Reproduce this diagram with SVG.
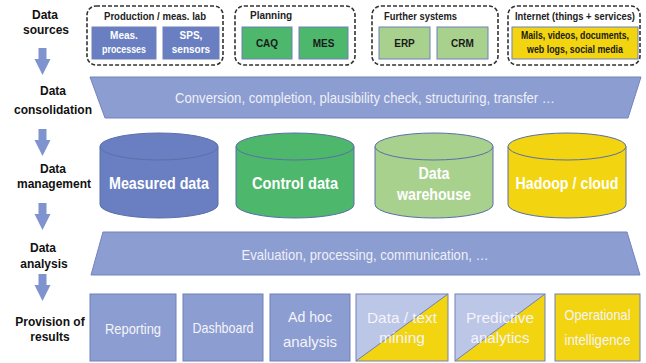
<svg xmlns="http://www.w3.org/2000/svg" width="646" height="363" viewBox="0 0 646 363">
  <style>
    .lbl { font-family: "Liberation Sans", Arial, sans-serif; font-weight: bold; font-size: 12px; fill: #111; text-anchor: middle; }
    .grp { fill: none; stroke: #333; stroke-width: 1.6; stroke-dasharray: 4 2; }
    .gtitle { font-family: "Liberation Sans", Arial, sans-serif; font-weight: bold; font-size: 10px; fill: #222; }
    .box { stroke: #6F80B8; stroke-width: 1; }
    .btxt { font-family: "Liberation Sans", Arial, sans-serif; font-weight: bold; font-size: 10px; text-anchor: middle; }
    .dark { fill: #6A7FC1; }
    .green { fill: #4DB76C; }
    .lgreen { fill: #A9D18E; }
    .yellow { fill: #F2D410; }
    .peri { fill: #8C9DD1; }
    .pale { fill: #BCC6E6; }
    .band { fill: #8C9DD1; stroke: #7383BE; stroke-width: 1; }
    .bandtxt { font-family: "Liberation Sans", Arial, sans-serif; font-size: 15px; fill: #EEF0F8; text-anchor: middle; }
    .cyl { stroke: #5B6FA8; stroke-width: 1; }
    .cyltxt { font-family: "Liberation Sans", Arial, sans-serif; font-weight: bold; font-size: 17px; fill: #FFFFFF; text-anchor: middle; }
    .restxt { font-family: "Liberation Sans", Arial, sans-serif; font-size: 15px; fill: #F4F4FA; text-anchor: middle; }
    .arrow { fill: #7F93CF; }
  </style>
  <defs>
    <!-- downward block arrow, top of the shaft at the origin -->
    <polygon id="down" points="-4,0 4,0 4,11 8,11 0,27 -8,11 -4,11"/>
  </defs>

  <rect width="646" height="363" fill="#FFFFFF"/>

  <!-- layer labels -->
  <g id="labels">
    <text class="lbl" x="45" y="19">Data</text>
    <text class="lbl" x="46" y="34">sources</text>
    <text class="lbl" x="53" y="95">Data</text>
    <text class="lbl" x="53" y="114">consolidation</text>
    <text class="lbl" x="53" y="173">Data</text>
    <text class="lbl" x="54" y="188">management</text>
    <text class="lbl" x="43" y="252">Data</text>
    <text class="lbl" x="44" y="268">analysis</text>
    <text class="lbl" x="50" y="326">Provision of</text>
    <text class="lbl" x="50" y="341">results</text>
  </g>

  <!-- flow arrows between layers -->
  <g id="connectors" class="arrow">
    <use href="#down" x="42.5" y="48"/>
    <use href="#down" x="42.5" y="129"/>
    <use href="#down" x="42.5" y="203"/>
    <use href="#down" x="42.5" y="274"/>
  </g>

  <!-- data sources -->
  <g id="src-production">
    <rect class="grp" x="87" y="6" width="136" height="59" rx="9"/>
    <text class="gtitle" x="155" y="20" text-anchor="middle" textLength="102" lengthAdjust="spacingAndGlyphs">Production / meas. lab</text>
    <rect class="box dark" x="92" y="27" width="64" height="32"/>
    <text class="btxt" x="124" y="39" fill="#FFFFFF">Meas.</text>
    <text class="btxt" x="124" y="53" fill="#FFFFFF" textLength="44" lengthAdjust="spacingAndGlyphs">processes</text>
    <rect class="box dark" x="163" y="27" width="56" height="32"/>
    <text class="btxt" x="191" y="39" fill="#FFFFFF">SPS,</text>
    <text class="btxt" x="191" y="53" fill="#FFFFFF">sensors</text>
  </g>

  <g id="src-planning">
    <rect class="grp" x="235" y="6" width="120" height="59" rx="9"/>
    <text class="gtitle" x="250" y="19">Planning</text>
    <rect class="box green" x="242" y="27" width="50" height="32"/>
    <text class="btxt" x="267" y="47" fill="#1A1A1A" font-size="11">CAQ</text>
    <rect class="box green" x="299" y="27" width="49" height="32"/>
    <text class="btxt" x="323.5" y="47" fill="#1A1A1A" font-size="11">MES</text>
  </g>

  <g id="src-further">
    <rect class="grp" x="372" y="6" width="126" height="59" rx="9"/>
    <text class="gtitle" x="384" y="20" textLength="73" lengthAdjust="spacingAndGlyphs">Further systems</text>
    <rect class="box lgreen" x="379" y="27" width="51" height="32"/>
    <text class="btxt" x="404.5" y="47" fill="#1A1A1A" font-size="11">ERP</text>
    <rect class="box lgreen" x="437" y="27" width="51" height="32"/>
    <text class="btxt" x="462.5" y="47" fill="#1A1A1A" font-size="11">CRM</text>
  </g>

  <g id="src-internet">
    <rect class="grp" x="508" y="6" width="132" height="59" rx="9"/>
    <text class="gtitle" x="575" y="20" text-anchor="middle" textLength="120" lengthAdjust="spacingAndGlyphs">Internet (things + services)</text>
    <rect class="box yellow" x="512" y="27" width="126" height="32"/>
    <text class="btxt" x="575" y="39" fill="#1A1A1A" textLength="108" lengthAdjust="spacingAndGlyphs">Mails, videos, documents,</text>
    <text class="btxt" x="575" y="53" fill="#1A1A1A" textLength="96" lengthAdjust="spacingAndGlyphs">web logs, social media</text>
  </g>

  <!-- data consolidation -->
  <g id="consolidation">
    <polygon class="band" points="90,77 641,77 628,118 105,118"/>
    <text class="bandtxt" x="365" y="103" textLength="380" lengthAdjust="spacingAndGlyphs">Conversion, completion, plausibility check, structuring, transfer …</text>
  </g>

  <!-- data management: storage cylinders -->
  <g id="db-measured">
    <path class="cyl dark" d="M100,146.5 L100,204.5 A59,13.5 0 0 0 218,204.5 L218,146.5 Z"/>
    <ellipse class="cyl dark" cx="159" cy="146.5" rx="59" ry="13.5"/>
    <text class="cyltxt" x="159" y="189" textLength="100" lengthAdjust="spacingAndGlyphs">Measured data</text>
  </g>
  <g id="db-control">
    <path class="cyl green" d="M236,146.5 L236,204.5 A59,13.5 0 0 0 354,204.5 L354,146.5 Z"/>
    <ellipse class="cyl green" cx="295" cy="146.5" rx="59" ry="13.5"/>
    <text class="cyltxt" x="295" y="189" textLength="86" lengthAdjust="spacingAndGlyphs">Control data</text>
  </g>
  <g id="db-warehouse">
    <path class="cyl lgreen" d="M375,146.5 L375,204.5 A59,13.5 0 0 0 493,204.5 L493,146.5 Z"/>
    <ellipse class="cyl lgreen" cx="434" cy="146.5" rx="59" ry="13.5"/>
    <text class="cyltxt" x="434" y="179" textLength="31" lengthAdjust="spacingAndGlyphs">Data</text>
    <text class="cyltxt" x="434" y="200" textLength="74" lengthAdjust="spacingAndGlyphs">warehouse</text>
  </g>
  <g id="db-hadoop">
    <path class="cyl yellow" d="M508,146.5 L508,204.5 A59,13.5 0 0 0 626,204.5 L626,146.5 Z"/>
    <ellipse class="cyl yellow" cx="567" cy="146.5" rx="59" ry="13.5"/>
    <text class="cyltxt" x="567" y="189" textLength="103" lengthAdjust="spacingAndGlyphs">Hadoop / cloud</text>
  </g>

  <!-- data analysis -->
  <g id="analysis">
    <polygon class="band" points="103,232 627,232 640,275 91,275"/>
    <text class="bandtxt" x="365" y="260" textLength="247" lengthAdjust="spacingAndGlyphs">Evaluation, processing, communication, …</text>
  </g>

  <!-- provision of results -->
  <g id="res-reporting">
    <rect class="box peri" x="90" y="294" width="86" height="67"/>
    <text class="restxt" x="133" y="334" textLength="56" lengthAdjust="spacingAndGlyphs">Reporting</text>
  </g>
  <g id="res-dashboard">
    <rect class="box peri" x="183" y="294" width="80" height="67"/>
    <text class="restxt" x="223" y="333" textLength="61" lengthAdjust="spacingAndGlyphs">Dashboard</text>
  </g>
  <g id="res-adhoc">
    <rect class="box peri" x="270" y="294" width="80" height="67"/>
    <text class="restxt" x="310" y="322" textLength="44" lengthAdjust="spacingAndGlyphs">Ad hoc</text>
    <text class="restxt" x="310" y="347" textLength="54" lengthAdjust="spacingAndGlyphs">analysis</text>
  </g>
  <g id="res-mining">
    <rect class="pale" x="356" y="294" width="92" height="67"/>
    <polygon class="yellow" points="356,361 448,294 448,361"/>
    <rect class="box" x="356" y="294" width="92" height="67" fill="none"/>
    <line x1="356" y1="361" x2="448" y2="294" stroke="#6F80B8" stroke-width="1"/>
    <text class="restxt" x="402" y="323" textLength="70" lengthAdjust="spacingAndGlyphs">Data / text</text>
    <text class="restxt" x="402" y="343" textLength="46" lengthAdjust="spacingAndGlyphs">mining</text>
  </g>
  <g id="res-predictive">
    <rect class="pale" x="455" y="294" width="90" height="67"/>
    <polygon class="yellow" points="455,361 545,294 545,361"/>
    <rect class="box" x="455" y="294" width="90" height="67" fill="none"/>
    <line x1="455" y1="361" x2="545" y2="294" stroke="#6F80B8" stroke-width="1"/>
    <text class="restxt" x="500" y="323" textLength="68" lengthAdjust="spacingAndGlyphs">Predictive</text>
    <text class="restxt" x="500" y="343" textLength="59" lengthAdjust="spacingAndGlyphs">analytics</text>
  </g>
  <g id="res-operational">
    <rect class="box yellow" x="555" y="294" width="85" height="67"/>
    <text class="restxt" x="597.5" y="320" textLength="66" lengthAdjust="spacingAndGlyphs">Operational</text>
    <text class="restxt" x="597.5" y="345" textLength="66" lengthAdjust="spacingAndGlyphs">intelligence</text>
  </g>
</svg>
